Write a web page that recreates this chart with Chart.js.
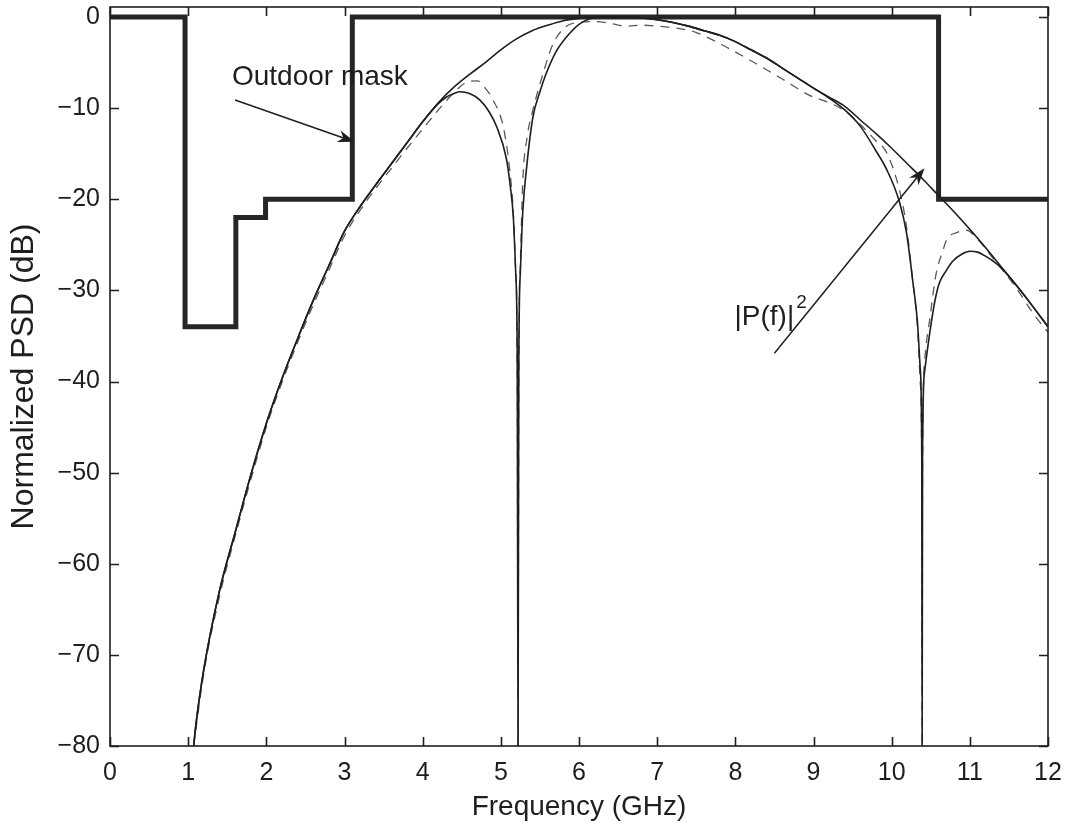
<!DOCTYPE html>
<html>
<head>
<meta charset="utf-8">
<script src="https://cdn.jsdelivr.net/npm/chart.js@4.4.1/dist/chart.umd.min.js"></script>
<style>
  html, body { margin: 0; padding: 0; background: #fff; }
  canvas { display: block; }
</style>
</head>
<body>
<canvas id="psdChart" width="1075" height="824"></canvas>
<script>
// FCC outdoor mask, normalized to the 3.1-10.6 GHz limit
const maskFreq  = [0, 0.96, 0.96, 1.61, 1.61, 1.99, 1.99, 3.1, 3.1, 10.6, 10.6, 12];
const maskLevel = [0, 0, -34, -34, -22, -22, -20, -20, 0, 0, -20, -20];

// envelope of the pulse spectrum
const envFreq = [1.07, 1.1, 1.2, 1.4, 1.6, 1.8, 2.0, 2.2, 2.4, 2.6, 2.8, 3.0, 3.2, 3.4, 3.6, 3.8,
  4.0, 4.2, 4.4, 4.6, 4.8, 5.0, 5.2, 5.4, 5.6, 5.8, 6.0, 6.2, 6.4, 6.6, 6.8, 7.0, 7.2, 7.4, 7.6,
  7.8, 8.0, 8.2, 8.4, 8.6, 8.8, 9.0, 9.2, 9.4, 9.6, 9.8, 10.0, 10.2, 10.4, 10.6, 10.8, 11.0, 11.2,
  11.4, 11.6, 11.8, 12.0];
const envPsd = [-80, -77.6, -71.6, -63.0, -56.6, -50.3, -44.6, -39.7, -35.3, -31.1, -27.3, -23.5, -20.8, -18.4, -16.1, -13.8,
  -11.5, -9.4, -7.7, -6.3, -5.0, -3.6, -2.4, -1.5, -0.9, -0.4, -0.15, 0, 0, 0, -0.1, -0.3, -0.6, -1.0, -1.5,
  -2.0, -2.7, -3.6, -4.5, -5.6, -6.7, -7.8, -8.8, -9.8, -11.3, -12.8, -14.4, -16.1, -17.8, -19.6, -21.4, -23.3, -25.3,
  -27.4, -29.5, -31.7, -34.0];

// |P(f)|^2 with its two spectral nulls
const pulseFreq = [1.07, 1.1, 1.2, 1.4, 1.6, 1.8, 2.0, 2.2, 2.4, 2.6, 2.8, 3.0, 3.2, 3.4, 3.6, 3.8,
  4.0, 4.2, 4.3, 4.4, 4.48, 4.6, 4.73, 4.85, 4.95, 5.07, 5.12, 5.16, 5.19, 5.21, 5.22, 5.23, 5.25,
  5.28, 5.33, 5.41, 5.5, 5.58, 5.7, 5.84, 6.0, 6.14, 6.3, 6.6, 6.8, 7.0, 7.2, 7.4, 7.6, 7.8, 8.0,
  8.2, 8.4, 8.6, 8.8, 9.0, 9.2, 9.4, 9.6, 9.8, 9.94, 10.1, 10.19, 10.27, 10.33, 10.365, 10.385,
  10.39, 10.395, 10.42, 10.49, 10.55, 10.61, 10.7, 10.78, 10.9, 11.0, 11.1, 11.21, 11.3, 11.4,
  11.6, 11.8, 12.0];
const pulsePsd = [-80, -77.6, -71.6, -63.0, -56.6, -50.3, -44.6, -39.7, -35.3, -31.1, -27.3, -23.5, -20.8, -18.4, -16.1, -13.8,
  -11.5, -9.5, -8.8, -8.4, -8.2, -8.4, -9.1, -10.4, -12.1, -15.5, -18.5, -22, -28, -38, -80, -38, -28,
  -21.5, -16.5, -11.0, -8.2, -6.2, -3.9, -2.2, -0.8, -0.2, 0, 0, -0.1, -0.3, -0.6, -1.0, -1.5, -2.0, -2.7,
  -3.6, -4.5, -5.6, -6.7, -7.8, -8.9, -10.2, -12.0, -14.7, -16.8, -20.3, -23.7, -29, -33.5, -38.5, -48,
  -80, -48, -39, -34.5, -31.3, -29.2, -27.8, -26.8, -26.0, -25.7, -25.8, -26.3, -26.8, -27.5,
  -29.5, -31.7, -34.0];

// second pulse shape (dashed)
const altFreq = [1.07, 1.2, 1.4, 1.6, 1.8, 2.0, 2.2, 2.4, 2.6, 2.8, 3.0, 3.2, 3.4, 3.6, 3.8, 4.0,
  4.2, 4.4, 4.55, 4.7, 4.8, 4.9, 5.03, 5.11, 5.16, 5.19, 5.21, 5.22, 5.23, 5.25, 5.28, 5.34, 5.41,
  5.54, 5.67, 5.84, 6.0, 6.2, 6.4, 6.6, 6.8, 7.0, 7.3, 7.5, 7.84, 8.2, 8.6, 8.95, 9.2, 9.4, 9.6,
  9.8, 9.93, 10.1, 10.19, 10.27, 10.33, 10.365, 10.385, 10.39, 10.395, 10.42, 10.49, 10.57, 10.65,
  10.7, 10.85, 10.96, 11.1, 11.3, 11.6, 11.8, 12.0];
const altPsd = [-80, -72, -63.6, -57, -50.8, -45, -40.1, -35.7, -31.6, -27.8, -24.0, -21.2, -18.8, -16.6, -14.4, -12.3,
  -10.2, -8.3, -7.2, -7.0, -7.8, -9.1, -12, -16.5, -21.5, -28, -38, -80, -38, -27, -18.2, -13, -10.2,
  -6.2, -2.9, -1.0, -0.6, -0.5, -0.7, -1.0, -0.9, -1.0, -1.3, -1.7, -3.1, -4.8, -6.8, -8.6, -9.4, -10.3, -11.8,
  -13.6, -14.8, -19, -23, -29, -34, -40, -50, -80, -50, -38, -33, -28.1, -25.8,
  -24.5, -23.6, -23.4, -24.4, -26.5, -29.8, -32.4, -34.6];

const xTicks = [0, 1, 2, 3, 4, 5, 6, 7, 8, 9, 10, 11, 12];
const yTicks = [-80, -70, -60, -50, -40, -30, -20, -10, 0];

const toPoints = (xs, ys) => xs.map((x, i) => ({ x: x, y: ys[i] }));

const ink = '#1e1e1e';
const fontFamily = '"Liberation Sans", Arial, Helvetica, sans-serif';

function drawArrow(ctx, x1, y1, x2, y2) {
  const a = Math.atan2(y2 - y1, x2 - x1);
  const len = 17, half = 6;
  ctx.beginPath();
  ctx.moveTo(x1, y1);
  ctx.lineTo(x2 - Math.cos(a) * 8, y2 - Math.sin(a) * 8);
  ctx.stroke();
  ctx.beginPath();
  ctx.moveTo(x2, y2);
  ctx.lineTo(x2 - len * Math.cos(a) + half * Math.sin(a), y2 - len * Math.sin(a) - half * Math.cos(a));
  ctx.lineTo(x2 - 0.7 * len * Math.cos(a), y2 - 0.7 * len * Math.sin(a));
  ctx.lineTo(x2 - len * Math.cos(a) - half * Math.sin(a), y2 - len * Math.sin(a) + half * Math.cos(a));
  ctx.closePath();
  ctx.fill();
}

// box, inward ticks on all four sides, and the two callouts
const framePlugin = {
  id: 'frame',
  afterDraw(chart) {
    const { ctx, chartArea: area, scales } = chart;
    const xs = scales.x, ys = scales.y;
    ctx.save();
    ctx.strokeStyle = ink;
    ctx.fillStyle = ink;
    ctx.lineWidth = 1.6;
    ctx.strokeRect(area.left, area.top, area.right - area.left, area.bottom - area.top);

    const tl = 9;
    ctx.beginPath();
    xTicks.forEach(v => {
      const px = Math.round(xs.getPixelForValue(v)) + 0.5;
      ctx.moveTo(px, area.bottom); ctx.lineTo(px, area.bottom - tl);
      ctx.moveTo(px, area.top); ctx.lineTo(px, area.top + tl);
    });
    yTicks.forEach(v => {
      const py = Math.round(ys.getPixelForValue(v)) + 0.5;
      ctx.moveTo(area.left, py); ctx.lineTo(area.left + tl, py);
      ctx.moveTo(area.right, py); ctx.lineTo(area.right - tl, py);
    });
    ctx.stroke();

    ctx.lineWidth = 1.5;
    ctx.textBaseline = 'alphabetic';
    ctx.textAlign = 'left';
    ctx.font = '28px ' + fontFamily;
    ctx.fillText('Outdoor mask', xs.getPixelForValue(1.56), ys.getPixelForValue(-7.5));
    drawArrow(ctx, xs.getPixelForValue(1.6), ys.getPixelForValue(-9.1),
      xs.getPixelForValue(3.13), ys.getPixelForValue(-13.7));

    const tx = xs.getPixelForValue(7.99), ty = ys.getPixelForValue(-33.8);
    ctx.fillText('|P(f)|', tx, ty);
    const w = ctx.measureText('|P(f)|').width;
    ctx.font = '19px ' + fontFamily;
    ctx.fillText('2', tx + w + 2, ty - 17);
    drawArrow(ctx, xs.getPixelForValue(8.5), ys.getPixelForValue(-36.9),
      xs.getPixelForValue(10.42), ys.getPixelForValue(-16.6));
    ctx.restore();
  }
};

new Chart(document.getElementById('psdChart'), {
  type: 'line',
  data: {
    datasets: [
      {
        label: 'Envelope',
        data: toPoints(envFreq, envPsd),
        borderColor: ink,
        borderWidth: 1.6,
        pointRadius: 0,
        cubicInterpolationMode: 'monotone'
      },
      {
        label: '|P(f)|^2',
        data: toPoints(pulseFreq, pulsePsd),
        borderColor: ink,
        borderWidth: 1.6,
        pointRadius: 0,
        cubicInterpolationMode: 'monotone'
      },
      {
        label: 'Dashed pulse',
        data: toPoints(altFreq, altPsd),
        borderColor: '#5a5a5a',
        borderWidth: 1.3,
        borderDash: [9, 7],
        pointRadius: 0,
        cubicInterpolationMode: 'monotone'
      },
      {
        label: 'Outdoor mask',
        data: toPoints(maskFreq, maskLevel),
        borderColor: '#262626',
        borderWidth: 5,
        borderJoinStyle: 'miter',
        pointRadius: 0,
        tension: 0
      }
    ]
  },
  options: {
    responsive: false,
    animation: false,
    devicePixelRatio: 1,
    layout: { padding: { top: 7, right: 27, left: 0, bottom: 0 } },
    plugins: {
      legend: { display: false },
      tooltip: { enabled: false }
    },
    scales: {
      x: {
        type: 'linear',
        min: 0,
        max: 12,
        grid: { display: false, drawTicks: false },
        border: { display: false },
        afterBuildTicks: scale => { scale.ticks = xTicks.map(v => ({ value: v })); },
        afterFit: scale => { scale.height = 78; },
        ticks: {
          color: ink,
          padding: 12,
          maxRotation: 0,
          font: { size: 25, family: fontFamily }
        },
        title: {
          display: true,
          text: 'Frequency (GHz)',
          color: ink,
          padding: { top: 0, bottom: 0 },
          font: { size: 28, family: fontFamily }
        }
      },
      y: {
        min: -80,
        max: 1.1,
        grid: { display: false, drawTicks: false },
        border: { display: false },
        afterBuildTicks: scale => { scale.ticks = yTicks.map(v => ({ value: v })); },
        afterFit: scale => {
          scale.width = 110;
          scale.paddingTop = 0;
          scale.paddingBottom = 0;
        },
        ticks: {
          color: ink,
          padding: 10,
          font: { size: 25, family: fontFamily },
          callback: v => String(v).replace('-', '\u2212')
        },
        title: {
          display: true,
          text: 'Normalized PSD (dB)',
          color: ink,
          padding: { top: 5, bottom: 0 },
          font: { size: 32, family: fontFamily }
        }
      }
    }
  },
  plugins: [framePlugin]
});
</script>
</body>
</html>
